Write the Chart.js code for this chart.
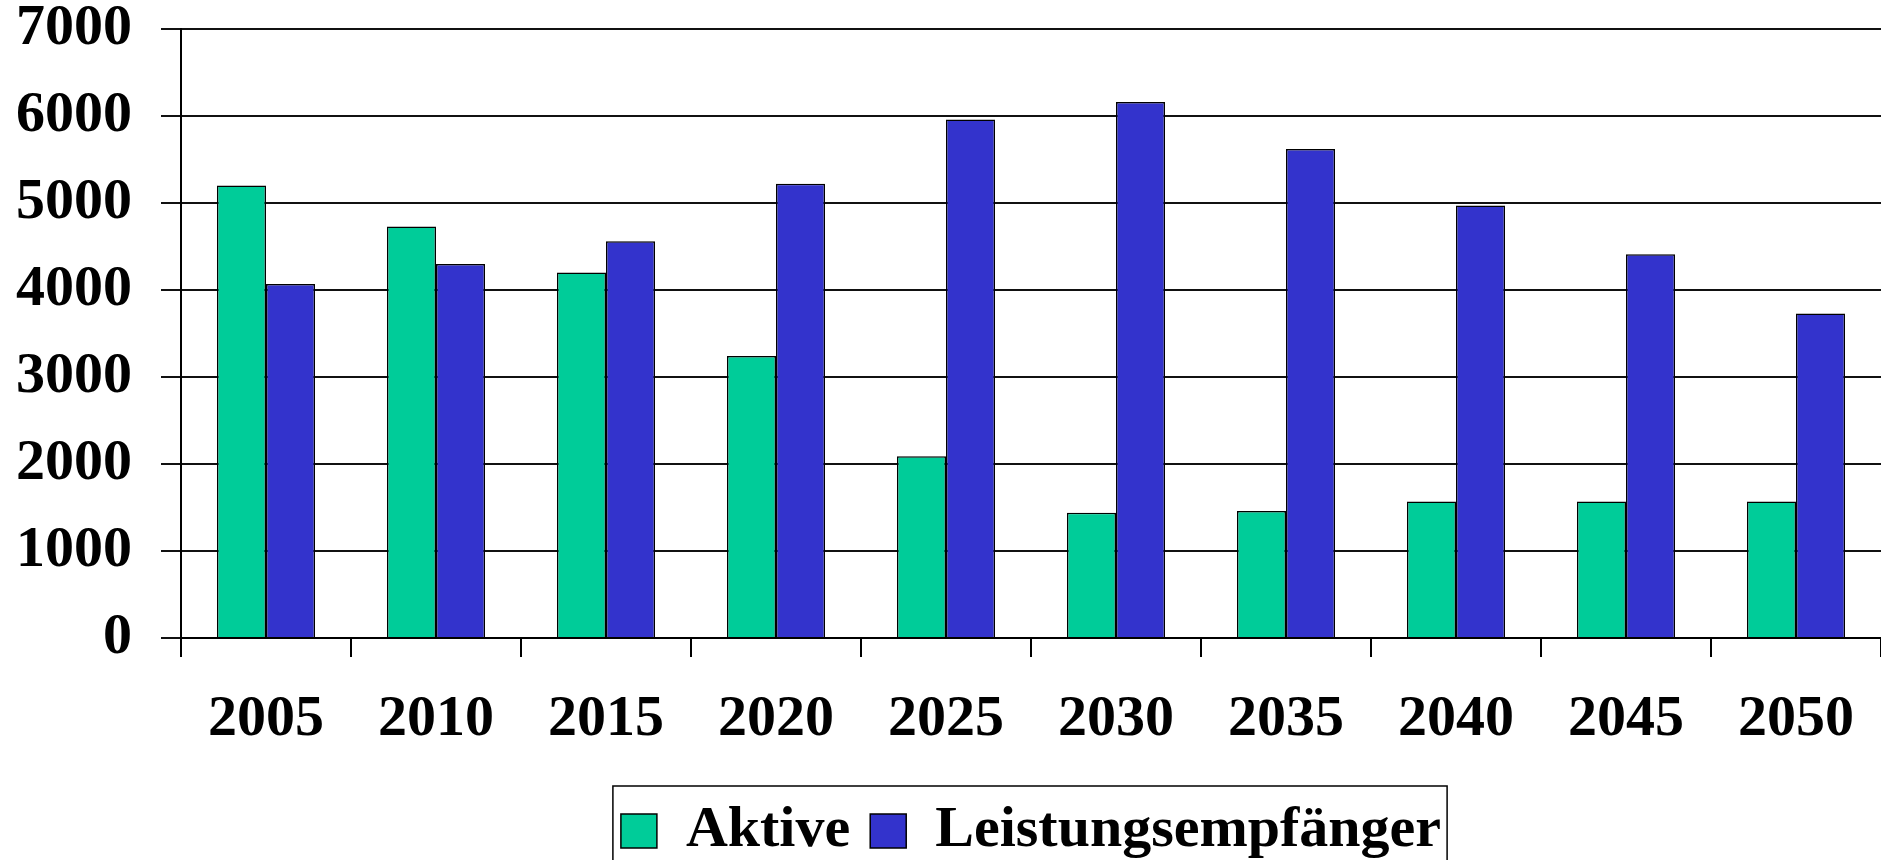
<!DOCTYPE html>
<html lang="de">
<head>
    <meta charset="utf-8" />
    <title>Aktive und Leistungsempfänger</title>
    <script src="https://cdn.jsdelivr.net/npm/chart.js"></script>
    <style>
        body { margin: 0; overflow: hidden; background: #fff; }
        #rahmen { width: 1881px; height: 870px; }
    </style>
</head>
<body>

<div id="rahmen">
    <canvas id="grafik"></canvas>
</div>

<script>
    // Daten
    const jahre = ['2005', '2010', '2015', '2020', '2025', '2030', '2035', '2040', '2045', '2050'];
    const aktive = [5200, 4730, 4200, 3240, 2090, 1440, 1460, 1570, 1570, 1570];
    const leistungsempfaenger = [4070, 4300, 4560, 5220, 5960, 6160, 5620, 4970, 4410, 3730];
    const yAchse = [0, 1000, 2000, 3000, 4000, 5000, 6000, 7000];

    const schrift = { family: '"Liberation Serif", "Times New Roman", serif', size: 58, weight: 'bold', lineHeight: 1 };

    // Rahmen um die Legende
    const legendenRahmen = {
        id: 'legendenRahmen',
        afterDraw(chart) {
            const boxen = chart.legend.legendHitBoxes;
            if (!boxen || !boxen.length) return;
            const erste = boxen[0];
            const letzte = boxen[boxen.length - 1];
            const links = erste.left - 8;
            const rechts = letzte.left + letzte.width + 6;
            const ctx = chart.ctx;
            ctx.save();
            ctx.strokeStyle = '#000';
            ctx.lineWidth = 1.5;
            ctx.strokeRect(links, erste.top - 16, rechts - links, erste.height + 36);
            ctx.restore();
        }
    };

    new Chart(document.getElementById('grafik'), {
        type: 'bar',
        data: {
            labels: jahre,
            datasets: [
                {
                    label: 'Aktive',
                    data: aktive,
                    backgroundColor: '#00CC99',
                    borderColor: '#000',
                    borderWidth: 1.5
                },
                {
                    label: 'Leistungsempfänger',
                    data: leistungsempfaenger,
                    backgroundColor: '#3333CC',
                    borderColor: '#000',
                    borderWidth: 1.5
                }
            ]
        },
        options: {
            responsive: true,
            maintainAspectRatio: false,
            animation: false,
            layout: { padding: { top: 29, left: 0, right: 0, bottom: 0 } },
            datasets: {
                bar: { categoryPercentage: 0.577, barPercentage: 1.0 }
            },
            plugins: {
                tooltip: { enabled: false },
                legend: {
                    position: 'bottom',
                    fullSize: false,
                    labels: {
                        font: schrift,
                        color: '#000',
                        boxWidth: 36,
                        boxHeight: 34,
                        padding: 20
                    }
                }
            },
            scales: {
                x: {
                    grid: {
                        drawOnChartArea: false,
                        tickLength: 19,
                        color: '#000',
                        lineWidth: 2,
                        offset: true
                    },
                    border: { color: '#000', width: 2 },
                    ticks: { font: schrift, color: '#000', padding: 34, maxRotation: 0 },
                    afterFit: s => { s.height = 144; s.paddingLeft = 0; s.paddingRight = 0; }
                },
                y: {
                    min: yAchse[0],
                    max: yAchse[yAchse.length - 1],
                    grid: { color: '#111', lineWidth: 2, tickLength: 20 },
                    border: { color: '#000', width: 2 },
                    ticks: {
                        stepSize: yAchse[1] - yAchse[0],
                        font: schrift,
                        color: '#000',
                        padding: 29,
                        callback: v => String(v)
                    },
                    afterFit: s => { s.width = 181; s.paddingTop = 0; s.paddingBottom = 0; }
                }
            }
        },
        plugins: [legendenRahmen]
    });
</script>

</body>
</html>
